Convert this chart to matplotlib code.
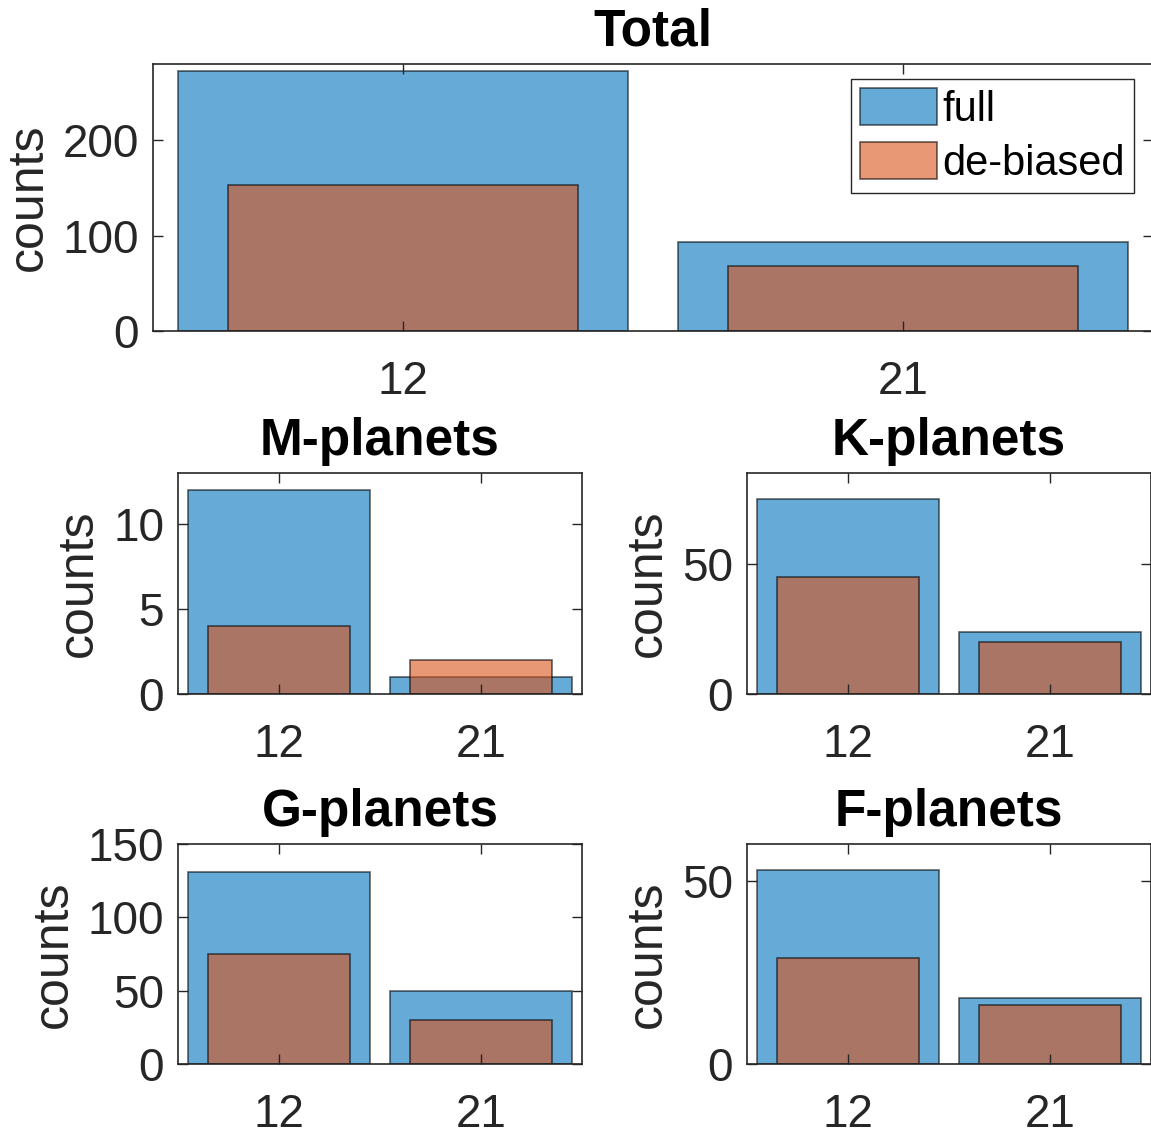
import matplotlib
matplotlib.use('Agg')
import matplotlib.pyplot as plt
import numpy as np

plt.rcParams['font.family'] = ['Liberation Sans', 'DejaVu Sans']

# === Data (counts per resonance class) ===
categories = ['12', '21']
panels = ['Total', 'M-planets', 'K-planets', 'G-planets', 'F-planets']
full_total = [273, 93]
debiased_total = [153, 68]
full_m = [12, 1]
debiased_m = [4, 2]
full_k = [75, 24]
debiased_k = [45, 20]
full_g = [131, 50]
debiased_g = [75, 30]
full_f = [53, 18]
debiased_f = [29, 16]

full_data = [full_total, full_m, full_k, full_g, full_f]
debiased_data = [debiased_total, debiased_m, debiased_k, debiased_g, debiased_f]
ylims = [280, 13, 85, 150, 60]
yticks = [[0, 100, 200], [0, 5, 10], [0, 50], [0, 50, 100, 150], [0, 50]]

# axes rectangles in pixels: left, top, right, bottom
W, H = 1151, 1131
boxes = [(153, 64, 1153, 331),
         (178, 473, 582, 694),
         (747, 473, 1151, 694),
         (178, 844, 582, 1064),
         (747, 844, 1151, 1064)]

blue = (0, 0.447, 0.741)
orange = (0.85, 0.325, 0.098)
axcol = '#262626'

fig = plt.figure(figsize=(W / 100, H / 100), dpi=100)

for i, name in enumerate(panels):
    l, t, r, b = boxes[i]
    ax = fig.add_axes([l / W, 1 - b / H, (r - l) / W, (b - t) / H])
    x = np.arange(1, len(categories) + 1)
    ax.bar(x, full_data[i], width=0.9, color=blue, alpha=0.6,
           edgecolor='black', linewidth=1.2, label='full')
    ax.bar(x, debiased_data[i], width=0.7, color=orange, alpha=0.6,
           edgecolor='black', linewidth=1.2, label='de-biased')
    ax.set_xlim(0.5, 2.5)
    ax.set_ylim(0, ylims[i])
    ax.set_xticks(x)
    ax.set_xticklabels(categories)
    ax.set_yticks(yticks[i])
    ax.tick_params(direction='in', top=True, right=True, length=7, width=1,
                   colors=axcol, labelsize=33, labelcolor=axcol)
    ax.tick_params(axis='x', pad=21)
    ax.tick_params(axis='y', pad=10)
    for sp in ax.spines.values():
        sp.set_color(axcol)
        sp.set_linewidth(1.2)
    ax.set_ylabel('counts', fontsize=36, color=axcol, labelpad=8)
    ax.set_title(name, fontsize=37, fontweight='bold', pad=13)
    if i == 0:
        leg = ax.legend(loc='upper right', bbox_to_anchor=(0.981, 0.944),
                        borderaxespad=0, fontsize=30, fancybox=False,
                        handlelength=1.85, handleheight=0.98,
                        handletextpad=0.12, borderpad=0.22, labelspacing=0.3,
                        edgecolor=axcol, framealpha=1)
        leg.get_frame().set_linewidth(1)

fig.savefig('out.png', dpi=100)
